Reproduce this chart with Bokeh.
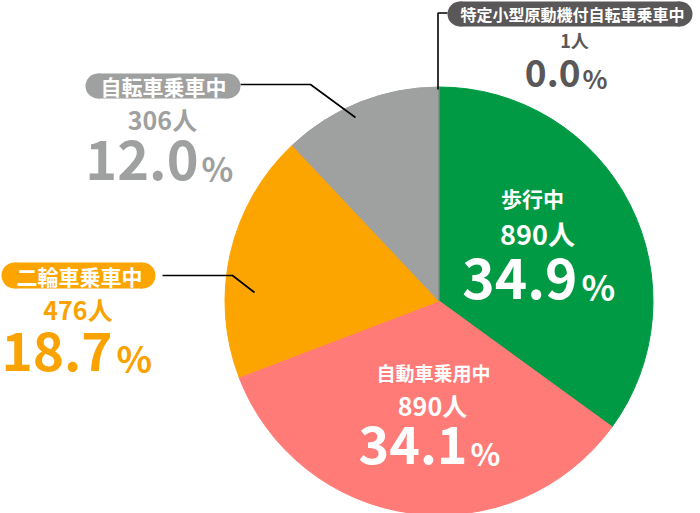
import numpy as np
from bokeh.plotting import figure
from bokeh.models import Range1d
from bokeh.core.properties import value
from bokeh.embed import file_html
from bokeh.resources import INLINE

# data
categories = ["歩行中", "自動車乗用中", "二輪車乗車中", "自転車乗車中", "特定小型原動機付自転車乗車中"]
counts = [890, 890, 476, 306, 1]
shares = [34.9, 34.1, 18.7, 12.0, 0.0]
colors = ["#009a44", "#ff7b77", "#fca500", "#9fa0a0", "#595757"]
text_colors = ["white", "white", "#f9a200", "#9fa0a0", "#595757"]

FONT = value("Noto Sans CJK JP")
CX, CY, R = 438.5, 300.5, 214
MID = 0.36  # digit centre above baseline, in em

# label layout (page pixels, y down; count/base are baselines)
layout = [
    dict(title=(532, 197), tsize=21, count=(537, 243), csize=27,
         num=577, pcx=581, base=298, nsize=55, psize=35),
    dict(title=(433, 372), tsize=19, count=(432, 413), csize=25,
         num=467, pcx=470, base=463, nsize=52, psize=31),
    dict(title=(79, 275), tsize=21, count=(77.5, 317), csize=25,
         num=112, pcx=116, base=370, nsize=53, psize=37,
         box=(1, 155, 262, 288), leader=[(162, 275), (232, 275), (254, 292)]),
    dict(title=(163, 85.5), tsize=21, count=(162, 127), csize=25,
         num=198, pcx=201, base=179, nsize=54, psize=33,
         box=(85, 240, 73, 98), leader=[(240, 84), (310, 84), (355, 117)]),
    dict(title=(572, 13.5), tsize=16, count=(574, 46), csize=18,
         num=580, pcx=582, base=86, nsize=37, psize=26,
         box=(447, 692, 1, 26), leader=[(447, 12.5), (437.5, 12.5), (437.5, 89)]),
]

p = figure(width=700, height=513, x_range=Range1d(0, 700), y_range=Range1d(513, 0),
           toolbar_location=None, output_backend="svg", min_border=0)
p.axis.visible = False
p.grid.visible = False
p.outline_line_color = None
p.background_fill_color = "white"

frac = np.array(shares) / sum(shares)
cum = np.cumsum(frac)
start_a = np.pi / 2 - cum * 2 * np.pi
end_a = np.pi / 2 - (cum - frac) * 2 * np.pi
big = frac > 0
p.wedge(x=CX, y=CY, radius=R, start_angle=start_a[big], end_angle=end_a[big],
        direction="anticlock", fill_color=[c for c, b in zip(colors, big) if b],
        line_color=[c for c, b in zip(colors, big) if b], line_width=1)
# 0.0% slice: only a hairline
for i in np.where(~big)[0]:
    a = end_a[i]
    p.segment(x0=CX, y0=CY, x1=CX + R * np.cos(a), y1=CY - R * np.sin(a),
              line_color="#707070", line_width=1, line_alpha=0.7)


def label(x, y, txt, size, color, align):
    p.text(x=[x], y=[y], text=[txt], text_align=align, text_baseline="middle",
           text_font=FONT, text_font_style="bold", text_font_size=f"{size}px",
           text_color=color)


for i, lay in enumerate(layout):
    col = text_colors[i]
    if "leader" in lay:
        xs, ys = zip(*lay["leader"])
        p.line(list(xs), list(ys), line_color="black", line_width=1.6)
    if "box" in lay:
        x0, x1, y0, y1 = lay["box"]
        r = (y1 - y0) / 2
        p.quad(left=x0 + r, right=x1 - r, top=y0, bottom=y1,
               fill_color=colors[i], line_color=None)
        p.circle(x=[x0 + r, x1 - r], y=[(y0 + y1) / 2] * 2, radius=r,
                 fill_color=colors[i], line_color=None)
        tcol = "white"
    else:
        tcol = col
    label(lay["title"][0], lay["title"][1], categories[i], lay["tsize"], tcol, "center")
    cx, cb = lay["count"]
    label(cx, cb - MID * lay["csize"], f"{counts[i]}人", lay["csize"], col, "center")
    label(lay["num"], lay["base"] - MID * lay["nsize"], f"{shares[i]:.1f}",
          lay["nsize"], col, "right")
    label(lay["pcx"], lay["base"] - MID * lay["psize"], "%", lay["psize"], col, "left")

open("out.html", "w").write(file_html(p, INLINE))
